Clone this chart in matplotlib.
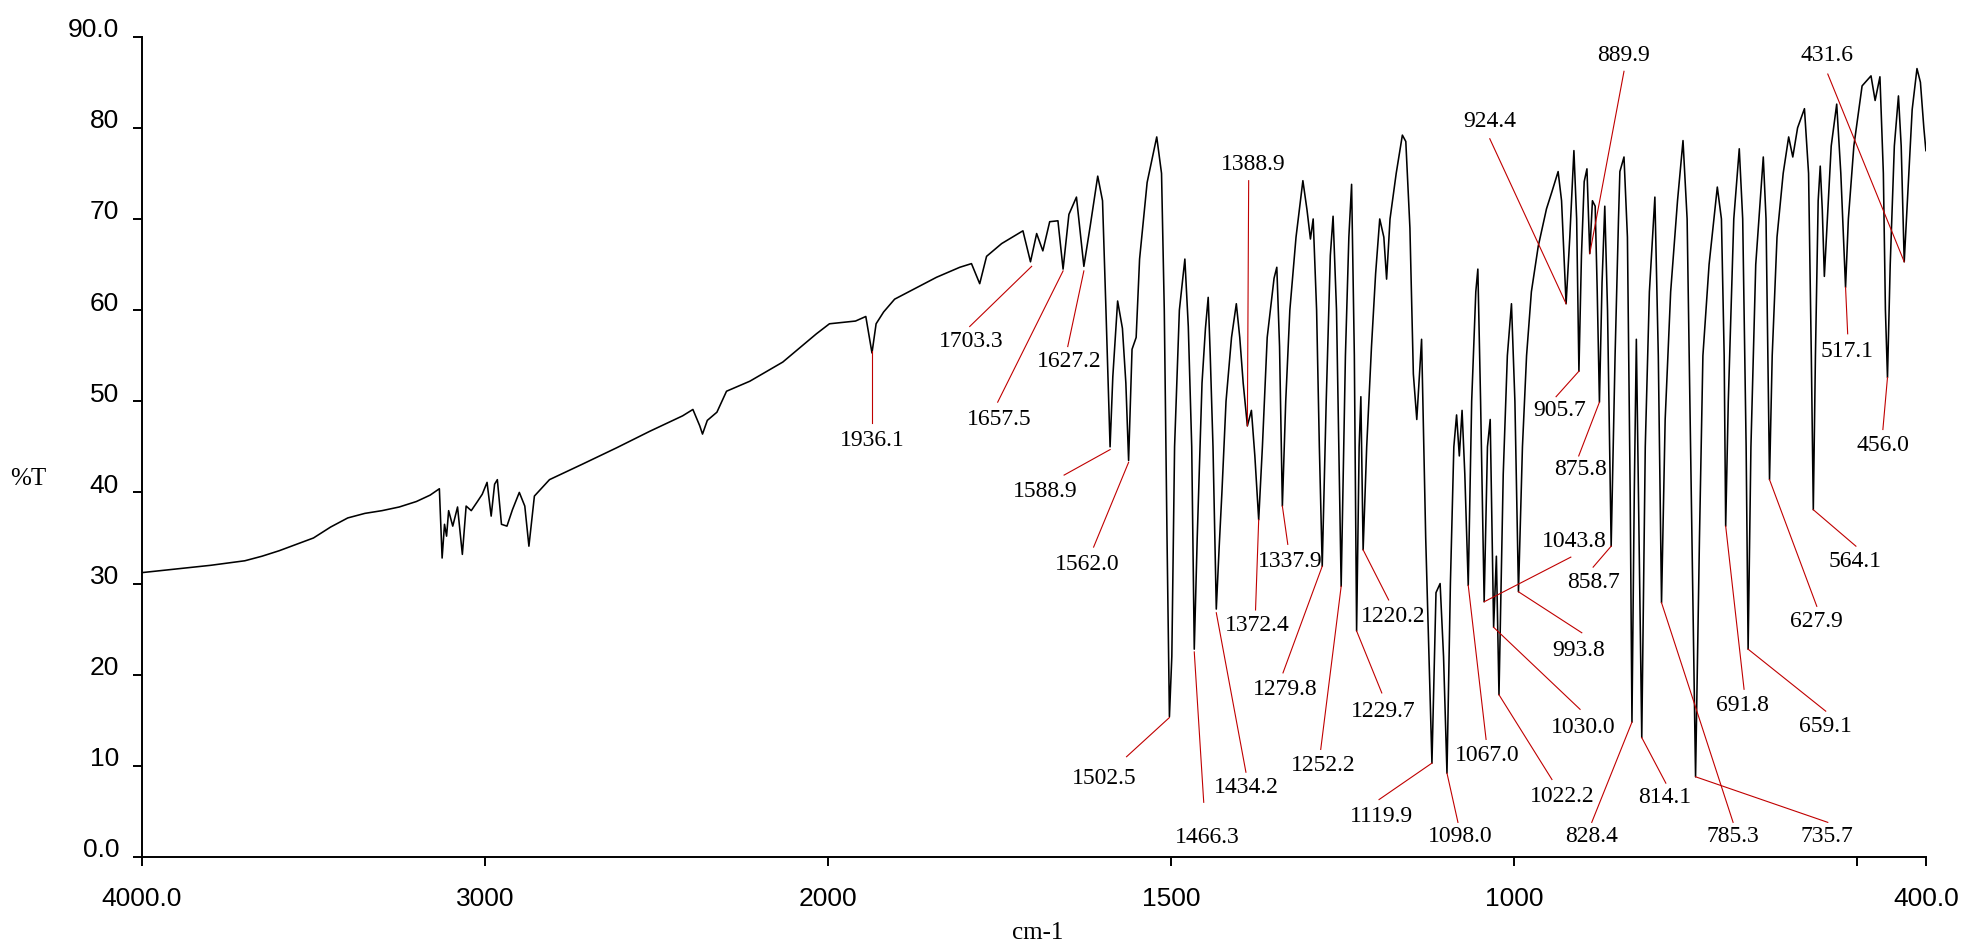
import matplotlib
matplotlib.use("Agg")
import matplotlib.pyplot as plt
import matplotlib.transforms as mtransforms
import numpy as np

# spectrum as (wavenumber, %T) vertices
wn_high = [4000, 3900, 3800, 3700, 3650, 3600, 3550, 3500, 3450, 3400, 3350, 3300,
           3250, 3200, 3160, 3133, 3125, 3118, 3112, 3106, 3094, 3080, 3066, 3055,
           3040, 3022, 3008, 2994, 2982, 2972, 2964, 2952, 2936, 2920, 2900, 2884,
           2872, 2856, 2812, 2716, 2616, 2520, 2424, 2394, 2374, 2366, 2352, 2324,
           2296, 2228, 2132, 2034]
t_high = [31.2, 31.6, 32.0, 32.5, 33.0, 33.6, 34.3, 35.0, 36.2, 37.2, 37.7, 38.0,
          38.4, 39.0, 39.7, 40.4, 32.8, 36.5, 35.2, 38.0, 36.3, 38.4, 33.2, 38.5,
          38.0, 39.0, 39.8, 41.1, 37.4, 40.9, 41.4, 36.5, 36.3, 38.1, 40.0, 38.5,
          34.1, 39.6, 41.4, 43.1, 44.9, 46.7, 48.4, 49.1, 47.3, 46.4, 47.9, 48.8,
          51.1, 52.2, 54.3, 57.4]

wn_mid = [1998, 1960, 1945, 1936, 1930, 1919, 1903, 1842, 1808, 1791, 1779, 1769,
          1747, 1716, 1705, 1696, 1687, 1677, 1665, 1657.5, 1649, 1638, 1627.2, 1618,
          1607, 1600, 1595, 1589, 1585, 1578, 1571, 1566, 1562, 1557, 1551, 1546]
t_mid = [58.5, 58.8, 59.3, 55.3, 58.5, 59.8, 61.2, 63.6, 64.7, 65.1, 62.9, 65.9,
         67.3, 68.7, 65.3, 68.4, 66.5, 69.7, 69.8, 64.5, 70.5, 72.4, 64.8, 69.2,
         74.7, 72.0, 60.0, 45.0, 52.7, 61.0, 58.0, 52.0, 43.5, 55.7, 57.0, 65.6]

wn_fp = [1535, 1521, 1514, 1510, 1506, 1502.5, 1499, 1495, 1488, 1480, 1475, 1470,
         1466.3, 1462, 1455, 1450, 1446, 1443, 1439, 1434.2, 1430, 1426, 1420, 1412,
         1405, 1400, 1395, 1388.9, 1383, 1378, 1372.4, 1367, 1360, 1350, 1346, 1342,
         1337.9, 1333, 1327, 1318, 1308, 1302, 1297, 1293, 1288, 1284, 1279.8, 1274,
         1268, 1264, 1259, 1252.2, 1246, 1241, 1237, 1233, 1229.7, 1226, 1223.5, 1220.2,
         1215, 1208, 1202, 1196, 1190, 1186, 1181, 1172, 1163, 1158, 1152, 1147,
         1142, 1135, 1129, 1119.9, 1114, 1108, 1103, 1098, 1093, 1088, 1084, 1080,
         1076, 1072, 1067, 1062, 1056, 1053, 1049, 1043.8, 1039, 1035, 1030, 1026,
         1022.2, 1016, 1010, 1004, 999, 993.8, 988, 982, 975, 965, 953, 945,
         936, 931, 924.4, 919, 913, 909, 905.7, 902, 898, 894, 889.9, 886,
         882, 879, 875.8, 872, 868, 864, 858.7, 853, 848, 846, 840, 835,
         831, 828.4, 825, 822, 818, 814.1, 809, 803, 795, 790, 785.3, 780,
         772, 762, 754, 748, 742, 735.7, 730, 725, 716, 704, 698, 694,
         691.8, 688, 680, 672, 667, 662, 659.1, 655, 648, 637, 633, 627.9,
         624, 617, 608, 600, 594, 587, 577, 571, 567, 564.1, 561, 557,
         554, 551, 548, 545, 538, 530, 524, 517.1, 513, 505, 493, 480,
         474, 467, 462, 459, 456, 452, 446, 440, 436, 431.6, 427, 420,
         413, 408, 403, 400]
t_fp = [74.0, 79.0, 75.0, 60.0, 35.0, 15.4, 22.0, 45.0, 60.0, 65.6, 58.2, 45.0,
        22.8, 35.0, 52.0, 58.0, 61.4, 55.0, 45.0, 27.2, 34.0, 40.0, 50.0, 57.0,
        60.7, 57.0, 52.0, 47.3, 49.0, 44.0, 37.0, 45.0, 57.0, 63.5, 64.7, 56.0,
        38.5, 50.0, 60.0, 68.0, 74.2, 71.0, 67.8, 70.0, 60.0, 45.0, 31.9, 50.0,
        66.0, 70.3, 60.0, 29.7, 55.0, 68.0, 73.8, 55.0, 24.8, 45.0, 50.5, 33.7,
        45.0, 56.0, 64.0, 70.0, 68.0, 63.4, 70.0, 75.0, 79.2, 78.5, 69.0, 53.0,
        48.0, 56.8, 35.0, 10.3, 29.0, 30.0, 22.0, 9.2, 30.0, 45.0, 48.5, 44.0,
        49.0, 42.0, 29.8, 50.0, 62.0, 64.5, 50.0, 28.0, 45.0, 48.0, 25.2, 33.0,
        17.8, 42.0, 55.0, 60.7, 50.0, 29.1, 45.0, 55.0, 62.0, 67.0, 71.1, 73.0,
        75.2, 72.0, 60.7, 68.0, 77.5, 70.0, 53.3, 66.0, 74.1, 75.5, 66.2, 72.0,
        71.4, 62.0, 49.9, 63.0, 71.4, 60.0, 34.1, 55.0, 70.0, 75.2, 76.8, 68.0,
        40.0, 14.8, 40.0, 56.8, 35.0, 13.1, 45.0, 62.0, 72.4, 55.0, 27.9, 48.0,
        62.0, 72.0, 78.6, 70.0, 40.0, 8.8, 35.0, 55.0, 65.0, 73.5, 70.0, 55.0,
        36.3, 50.0, 70.0, 77.7, 70.0, 45.0, 22.8, 45.0, 65.0, 76.8, 70.0, 41.4,
        55.0, 68.0, 75.0, 79.0, 76.8, 80.0, 82.1, 75.0, 55.0, 38.1, 55.0, 72.0,
        75.8, 71.0, 63.7, 68.0, 78.0, 82.6, 75.0, 62.5, 70.0, 78.0, 84.6, 85.7,
        83.0, 85.6, 75.0, 60.0, 52.6, 65.0, 78.0, 83.5, 78.0, 65.3, 72.0, 82.0,
        86.5, 85.0, 80.0, 77.5]

# peak labels: text, marked point (wn, %T)
peak_names = ["1936.1", "1703.3", "1657.5", "1627.2", "1588.9", "1562.0", "1502.5",
              "1466.3", "1434.2", "1388.9", "1372.4", "1337.9", "1279.8", "1252.2",
              "1229.7", "1220.2", "1119.9", "1098.0", "1067.0", "1043.8", "1030.0",
              "1022.2", "993.8", "924.4", "905.7", "889.9", "875.8", "858.7",
              "828.4", "814.1", "785.3", "735.7", "691.8", "659.1", "627.9",
              "564.1", "517.1", "456.0", "431.6"]
peak_wn = [1936.1, 1703.3, 1657.5, 1627.2, 1588.9, 1562.0, 1502.5,
           1466.3, 1434.2, 1388.9, 1372.4, 1337.9, 1279.8, 1252.2,
           1229.7, 1220.2, 1119.9, 1098.0, 1067.0, 1043.8, 1030.0,
           1022.2, 993.8, 924.4, 905.7, 889.9, 875.8, 858.7,
           828.4, 814.1, 785.3, 735.7, 691.8, 659.1, 627.9,
           564.1, 517.1, 456.0, 431.6]
peak_t = [55.5, 64.8, 64.3, 64.3, 44.7, 43.3, 15.3,
          22.5, 26.8, 47.3, 37.0, 38.5, 31.9, 29.7,
          24.8, 33.7, 10.3, 9.2, 29.8, 28.0, 25.2,
          17.8, 29.1, 60.7, 53.3, 66.2, 49.9, 34.1,
          14.8, 13.1, 27.9, 8.8, 36.3, 22.8, 41.4,
          38.1, 62.5, 52.6, 65.3]

# where each leader line ends and where its text sits
line_end = [(1936.1, 47.6), (1793.6, 58.2), (1752.8, 49.9), (1650.7, 56.0), (1656, 41.9),
            (1613, 34.0), (1565, 11.0), (1452.5, 6.0), (1391, 9.3), (1387, 74.2),
            (1377, 27.1), (1330, 34.3), (1337, 20.2), (1282, 11.8), (1193, 18.0),
            (1183, 28.2), (1197, 6.3), (1082, 3.8), (1041, 12.9), (917.5, 32.9),
            (904, 16.2), (945, 8.5), (901.5, 24.6), (1035.6, 78.8), (939, 50.5),
            (840, 86.2), (906, 44.0), (885, 31.8), (887, 3.8), (779, 8.1),
            (681, 3.8), (543, 3.8), (665, 18.4), (546, 16.0), (559, 27.5),
            (502, 34.1), (514, 57.4), (462.7, 46.9), (543, 85.9)]
text_at = [(1936, 45.7), (1790.7, 56.6), (1750, 48.0), (1648, 54.4), (1684, 40.1),
           (1623, 32.1), (1597, 8.6), (1448, 2.1), (1390, 7.6), (1381, 76.0),
           (1374, 25.4), (1327, 32.4), (1334, 18.4), (1279, 10.0), (1191.5, 16.0),
           (1177, 26.4), (1193, 4.4), (1079, 2.2), (1040, 11.1), (913, 34.6),
           (900, 14.2), (930.6, 6.6), (906, 22.7), (1035.6, 80.7), (933.5, 49.0),
           (840, 87.9), (903, 42.5), (885, 30.1), (887, 2.2), (780.5, 6.5),
           (681, 2.2), (544, 2.2), (667, 16.6), (547, 14.3), (559, 25.8),
           (503.5, 32.4), (515, 55.5), (462.7, 45.1), (544, 87.9)]

x_ticks = [4000, 3000, 2000, 1500, 1000, 500, 400]
x_tick_labels = ["4000.0", "3000", "2000", "1500", "1000", "", "400.0"]
y_ticks = [0, 10, 20, 30, 40, 50, 60, 70, 80, 90]
y_tick_labels = ["0.0", "10", "20", "30", "40", "50", "60", "70", "80", "90.0"]


# x axis is compressed by 2 above 2000 cm-1
def fwd(x):
    x = np.asarray(x, dtype=float)
    return np.where(x > 2000, 2000 + (x - 2000) / 2.0, x)


def inv(u):
    u = np.asarray(u, dtype=float)
    return np.where(u > 2000, 2000 + (u - 2000) * 2.0, u)


wn = wn_high + wn_mid + wn_fp
tr = t_high + t_mid + t_fp

fig = plt.figure(figsize=(19.63, 9.5), dpi=100)
ax = fig.add_axes([0.0723, 0.0979, 0.9088, 0.8635])
ax.set_xscale("function", functions=(fwd, inv))
ax.plot(wn, tr, color="black", lw=1.15, zorder=2)
ax.set_xlim(4000, 400)
ax.set_ylim(0, 90)

red = "#c00000"
for name, px, py, (ex, ey), (tx, ty) in zip(peak_names, peak_wn, peak_t, line_end, text_at):
    ax.plot([px, ex], [py, ey], color=red, lw=0.8, zorder=3)
    ax.text(tx, ty, name, ha="center", va="center", fontsize=17,
            family="Liberation Serif", zorder=4)

for s in ["top", "right"]:
    ax.spines[s].set_visible(False)
for s in ["left", "bottom"]:
    ax.spines[s].set_linewidth(1.4)

ax.set_xticks(x_ticks)
ax.set_xticklabels(x_tick_labels)
ax.set_yticks(y_ticks)
ax.set_yticklabels(y_tick_labels)
ax.xaxis.set_minor_locator(matplotlib.ticker.NullLocator())
ax.tick_params(direction="out", length=6.5, width=1.4, labelsize=19)
ax.tick_params(axis="x", pad=15)
ax.tick_params(axis="y", pad=10)
for lab in ax.get_xticklabels() + ax.get_yticklabels():
    lab.set_family("Liberation Sans")
shift = mtransforms.ScaledTranslation(0, 9 / 100.0, fig.dpi_scale_trans)
for lab in ax.get_yticklabels():
    lab.set_transform(lab.get_transform() + shift)

ax.text(-0.064, 0.461, "%T", transform=ax.transAxes, ha="center", va="center",
        fontsize=18, family="Liberation Serif")
ax.text(0.502, -0.093, "cm-1", transform=ax.transAxes, ha="center", va="center",
        fontsize=18, family="Liberation Serif")

fig.savefig("out.png", dpi=100)
